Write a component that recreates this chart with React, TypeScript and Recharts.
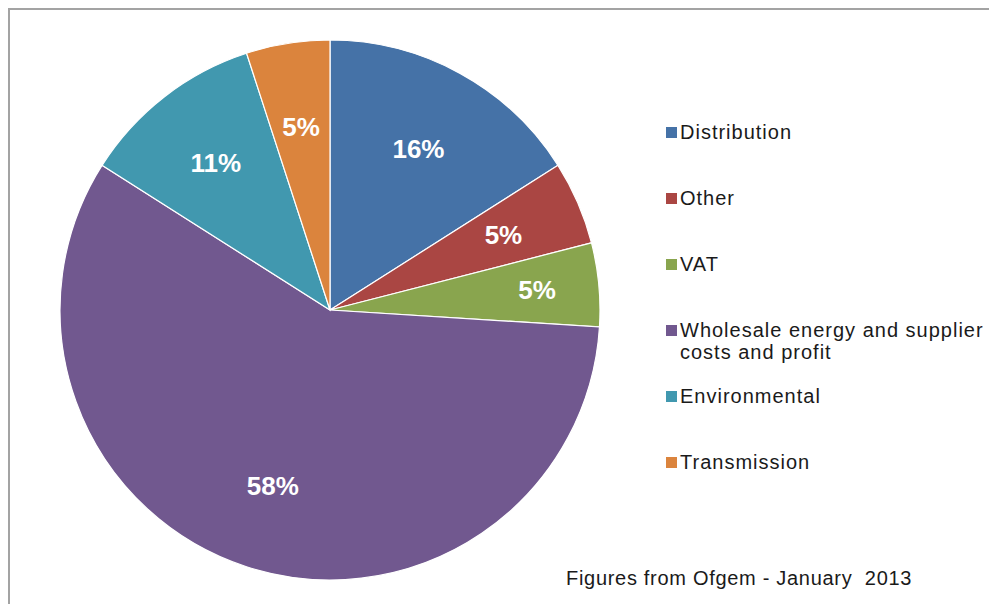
import React from "react";
import { PieChart, Pie, Cell, Legend } from "recharts";

const categories = [
  "Distribution",
  "Other",
  "VAT",
  "Wholesale energy and supplier costs and profit",
  "Environmental",
  "Transmission",
];
const shares = [16, 5, 5, 58, 11, 5];
const colors = ["#4572A7", "#AA4643", "#89A54E", "#71588F", "#4198AF", "#DB843D"];
const footnote = "Figures from Ofgem - January  2013";

const LABEL_RADIUS = [0.68, 0.7, 0.77, 0.685, 0.69, 0.685];

const data = categories.map((name, i) => ({ name, value: shares[i] }));

const RAD = Math.PI / 180;
const FONT = "'Liberation Sans', Arial, sans-serif";

const renderLabel = (props: any) => {
  const { cx, cy, midAngle, outerRadius, value, index } = props;
  const r = outerRadius * LABEL_RADIUS[index];
  const x = cx + r * Math.cos(-midAngle * RAD);
  const y = cy + r * Math.sin(-midAngle * RAD);
  return (
    <text
      x={x}
      y={y}
      fill="#ffffff"
      textAnchor="middle"
      dominantBaseline="central"
      fontFamily={FONT}
      fontWeight="bold"
      fontSize={26}
    >
      {`${value}%`}
    </text>
  );
};

const renderLegend = () => (
  <div style={{ fontFamily: FONT, fontSize: 20, letterSpacing: 1, color: "#1a1a1a" }}>
    {categories.map((name, i) => (
      <div key={name} style={{ display: "flex", alignItems: "flex-start", height: 66 }}>
        <div
          style={{
            width: 11,
            height: 11,
            background: colors[i],
            marginTop: 6,
            marginRight: 3,
            flex: "0 0 auto",
          }}
        />
        <div style={{ width: 312, lineHeight: "22px" }}>{name}</div>
      </div>
    ))}
  </div>
);

export default function App() {
  return (
    <div style={{ position: "relative", width: 989, height: 596, background: "#fff", overflow: "hidden" }}>
      <PieChart width={989} height={596} margin={{ top: 0, right: 0, bottom: 0, left: 0 }}>
        <Pie
          data={data}
          dataKey="value"
          nameKey="name"
          cx={322}
          cy={302}
          outerRadius={270}
          startAngle={90}
          endAngle={-270}
          stroke="#ffffff"
          strokeWidth={1.2}
          label={renderLabel}
          labelLine={false}
          isAnimationActive={false}
        >
          {data.map((d, i) => (
            <Cell key={d.name} fill={colors[i]} />
          ))}
        </Pie>
        <Legend
          layout="vertical"
          content={renderLegend}
          wrapperStyle={{ position: "absolute", left: 658, top: 113, width: 330 }}
        />
      </PieChart>
      <div
        style={{
          position: "absolute",
          left: 558,
          top: 558,
          fontFamily: FONT,
          fontSize: 20,
          letterSpacing: 0.7,
          lineHeight: "24px",
          color: "#1a1a1a",
          whiteSpace: "pre",
        }}
      >
        {footnote}
      </div>
      <div
        style={{
          position: "absolute",
          left: 0,
          top: 0,
          width: 1200,
          height: 800,
          borderLeft: "2px solid #a3a3a3",
          borderTop: "2px solid #a3a3a3",
          pointerEvents: "none",
        }}
      />
    </div>
  );
}
